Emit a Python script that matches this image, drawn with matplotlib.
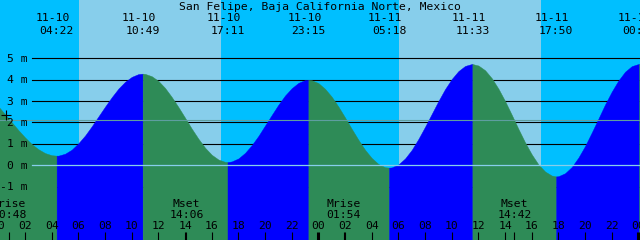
import numpy as np
import matplotlib
matplotlib.use("Agg")
import matplotlib.pyplot as plt
import matplotlib.transforms as mtransforms

Title = "San Felipe, Baja California Norte, Mexico"

# tide height (m) every half hour after 11-10 00:00
Hours = [i * 0.5 for i in range(99)]
Heights = [2.75, 2.38, 2.01, 1.64, 1.30, 0.99, 0.75, 0.57, 0.47, 0.45,
           0.54, 0.73, 1.03, 1.39, 1.82, 2.28, 2.74, 3.18, 3.58, 3.90,
           4.13, 4.26, 4.27, 4.16, 3.94, 3.61, 3.19, 2.72, 2.22, 1.71,
           1.24, 0.82, 0.49, 0.27, 0.16, 0.18, 0.32, 0.58, 0.94, 1.37,
           1.86, 2.35, 2.83, 3.26, 3.60, 3.85, 3.98, 3.97, 3.84, 3.57,
           3.20, 2.74, 2.23, 1.70, 1.19, 0.72, 0.34, 0.06, -0.09, -0.10,
           0.04, 0.32, 0.72, 1.23, 1.80, 2.40, 3.00, 3.56, 4.03, 4.40,
           4.64, 4.73, 4.66, 4.44, 4.07, 3.58, 3.00, 2.36, 1.70, 1.07,
           0.51, 0.04, -0.29, -0.48, -0.51, -0.37, -0.08, 0.36, 0.90, 1.53,
           2.18, 2.84, 3.44, 3.96, 4.37, 4.63, 4.73, 4.68, 4.55]

# high / low water events
ExtremeHours = [4.367, 10.817, 17.183, 23.25, 29.3, 35.55, 41.833, 48.05]
ExtremeHeights = [0.45, 4.28, 0.15, 3.99, -0.11, 4.73, -0.52, 4.73]
ExtremeDates = ["11-10", "11-10", "11-10", "11-10", "11-11", "11-11", "11-11", "11-12"]
ExtremeTimes = ["04:22", "10:49", "17:11", "23:15", "05:18", "11:33", "17:50", "00:03"]

MoonHours = [0.8, 14.1, 25.9, 38.7]
MoonNames = ["Mrise", "Mset", "Mrise", "Mset"]
MoonTimes = ["00:48", "14:06", "01:54", "14:42"]

SunriseHours = [6.05, 30.05]
SunsetHours = [16.70, 40.70]

Levels = [-1, 0, 1, 2, 3, 4, 5]
MeanLevel = 2.10
MarkHour, MarkHeight = 0.585, 2.34

T0, T1 = 0.12, 48.12   # visible window (hours)
Y0, Y1 = -3.49, 7.72   # visible window (m)

NightColor = "#00BFFF"
DayColor = "#87CEEB"
RiseColor = "#0000FF"
FallColor = "#2E8B57"

W, H = 640, 240
plt.rcParams["font.family"] = "DejaVu Sans Mono"
plt.rcParams["font.size"] = 8.2

fig = plt.figure(figsize=(W / 100, H / 100), dpi=100, facecolor=NightColor)
ax = fig.add_axes([0, 0, 1, 1])
ax.set_xlim(T0, T1)
ax.set_ylim(Y0, Y1)
ax.axis("off")


def row(px):
    """pixel row from the top -> axes fraction"""
    return 1 - px / H


# daylight bands
for sr, ss in zip(SunriseHours, SunsetHours):
    ax.axvspan(sr, ss, color=DayColor, lw=0, zorder=0)

# depth lines sit behind the water
for lv in Levels:
    if lv != 0:
        ax.axhline(lv, xmin=32 / W, color="black", lw=0.8, zorder=1)

# water, split at each high / low
t = np.array(Hours + ExtremeHours, dtype=float)
h = np.array(Heights + ExtremeHeights, dtype=float)
order = np.argsort(t)
t, h = t[order], h[order]
bounds = [t[0]] + ExtremeHours + [t[-1]]
for a, b in zip(bounds[:-1], bounds[1:]):
    m = (t >= a) & (t <= b)
    col = RiseColor if h[m][-1] > h[m][0] else FallColor
    ax.fill_between(t[m], h[m], Y0 - 1, facecolor=col, edgecolor=col, lw=0.3, zorder=2)

ax.axhline(0, xmin=32 / W, color="#87CEEB", lw=0.9, zorder=3)
ax.axhline(MeanLevel, color="#5F9EA0", lw=0.8, zorder=3)
ax.plot([MarkHour], [MarkHeight], marker="+", ms=6.5, mew=0.8, color="black", zorder=4)

# text
xdata = mtransforms.blended_transform_factory(ax.transData, ax.transAxes)
ydata = mtransforms.blended_transform_factory(ax.transAxes, ax.transData)
date_tr = mtransforms.offset_copy(xdata, fig=fig, x=-4, y=0, units="dots")
lab_tr = mtransforms.offset_copy(ydata, fig=fig, x=0, y=-3.6, units="dots")

ax.text(0.5, row(9.5), Title, transform=ax.transAxes, ha="center", va="baseline", zorder=5)

for th, d, s in zip(ExtremeHours, ExtremeDates, ExtremeTimes):
    ax.text(th, row(21), d, transform=date_tr, ha="center", va="baseline", zorder=5)
    ax.text(th, row(33.7), s, transform=xdata, ha="center", va="baseline", zorder=5)

for lv in Levels:
    ax.text(28 / W, lv, f"{lv} m", transform=lab_tr, ha="right", va="baseline", zorder=5)

for mh, name, s in zip(MoonHours, MoonNames, MoonTimes):
    ax.text(mh, row(206.7), name, transform=xdata, ha="center", va="baseline", zorder=5)
    ax.text(mh, row(217.7), s, transform=xdata, ha="center", va="baseline", zorder=5)

hour_ticks = list(range(0, 49, 2))
for hr in hour_ticks:
    ax.text(hr, row(229.3), f"{hr % 24:02d}", transform=xdata, ha="center", va="baseline", zorder=5)

tick_top = 8.5 / H
ax.vlines([hr for hr in hour_ticks if hr % 24], 0, tick_top, transform=xdata,
          colors="black", lw=0.8, zorder=5)
ax.vlines(MoonHours, 0, tick_top, transform=xdata, colors="black", lw=0.8, zorder=5)
ax.vlines([0, 24, 48], 0, tick_top, transform=xdata, colors="black", lw=2.2, zorder=5)

fig.savefig("out.png", dpi=100, facecolor=NightColor)
